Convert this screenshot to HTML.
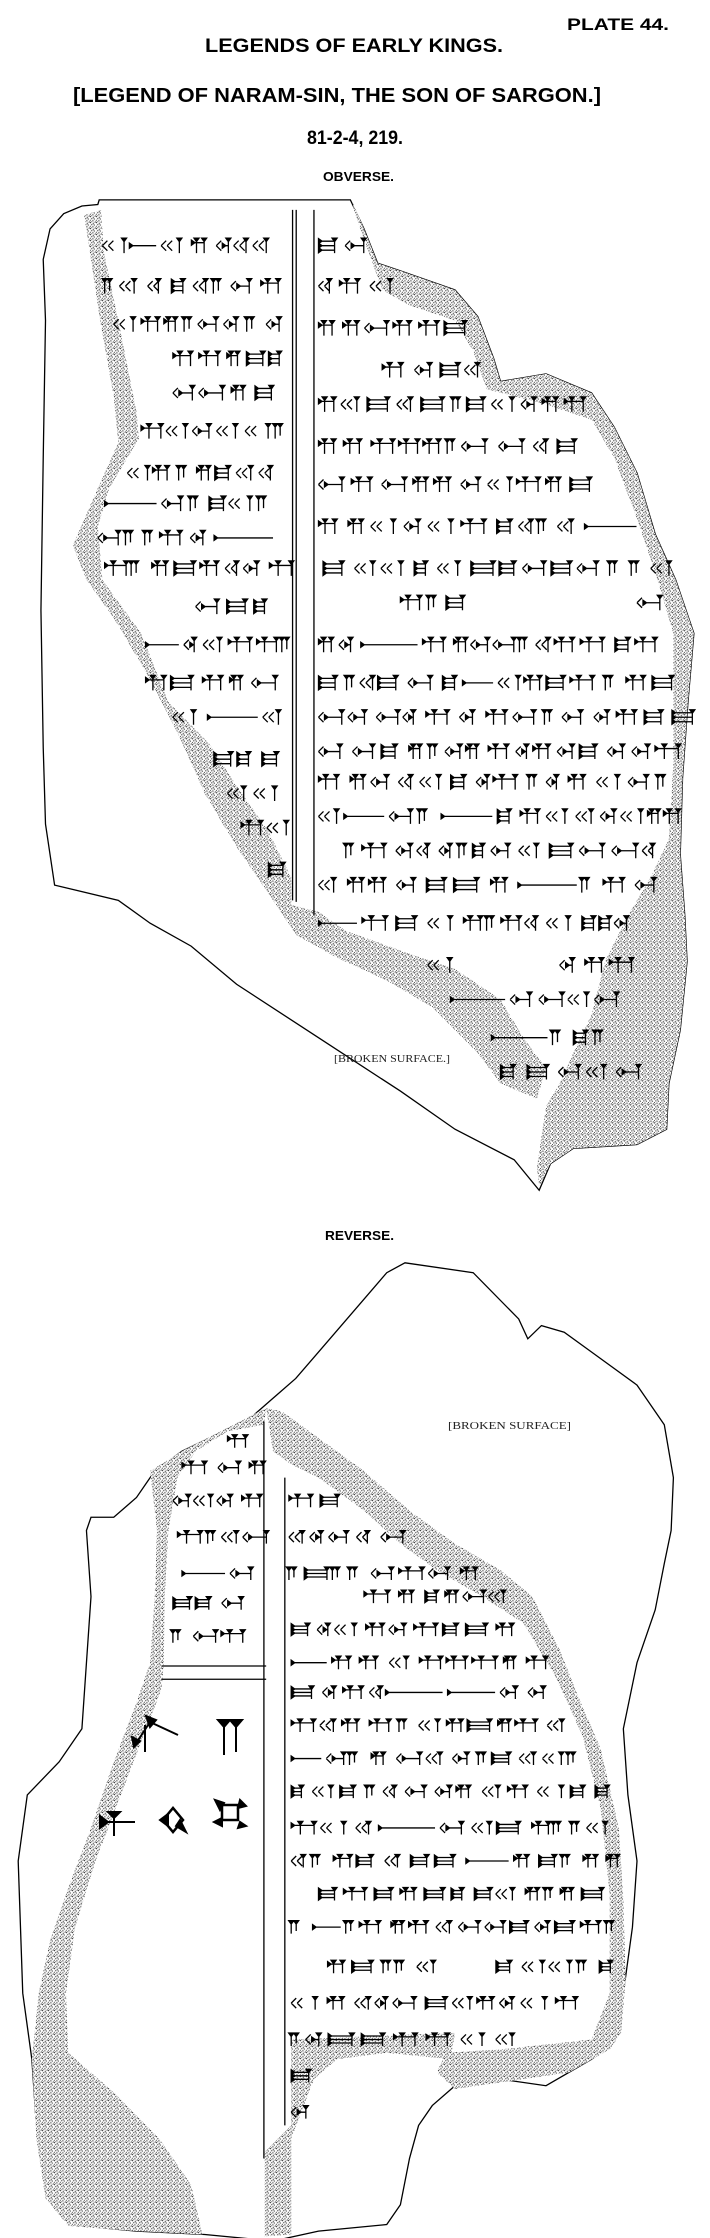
<!DOCTYPE html>
<html><head><meta charset="utf-8"><style>
html,body{margin:0;padding:0;background:#fff;}
svg{display:block;}
.h{font-family:"Liberation Sans",sans-serif;font-weight:bold;fill:#000;}
.b{font-family:"Liberation Serif",serif;fill:#222;}
</style></head><body>
<svg id="s" width="710" height="2238" viewBox="0 0 710 2238" xmlns="http://www.w3.org/2000/svg">
<defs>
<g id="dots" fill="#222">
<circle cx="0.5" cy="0.6" r="0.6"/><circle cx="3.2" cy="1.1" r="0.55"/><circle cx="5.1" cy="0.3" r="0.5"/>
<circle cx="1.8" cy="2.6" r="0.6"/><circle cx="4.3" cy="3.0" r="0.55"/><circle cx="0.4" cy="4.2" r="0.5"/>
<circle cx="2.9" cy="4.8" r="0.6"/><circle cx="5.3" cy="5.2" r="0.5"/><circle cx="1.2" cy="5.6" r="0.45"/>
<circle cx="3.8" cy="2.0" r="0.4"/>
</g>
<pattern id="st1" width="6" height="6" patternUnits="userSpaceOnUse" patternTransform="scale(2.198,1.311)">
<rect width="6" height="6" fill="#fff"/><use href="#dots"/>
</pattern>
<pattern id="st2" width="6" height="6" patternUnits="userSpaceOnUse" patternTransform="scale(2.198,1.513)">
<rect width="6" height="6" fill="#fff"/><use href="#dots"/>
</pattern>
</defs>
<text class="h" x="567" y="30" font-size="17" textLength="102" lengthAdjust="spacingAndGlyphs">PLATE 44.</text>
<text class="h" x="205" y="52" font-size="19" textLength="298" lengthAdjust="spacingAndGlyphs">LEGENDS OF EARLY KINGS.</text>
<text class="h" x="73" y="102" font-size="20" textLength="528" lengthAdjust="spacingAndGlyphs">[LEGEND OF NARAM-SIN, THE SON OF SARGON.]</text>
<text class="h" x="307" y="144" font-size="19" textLength="96" lengthAdjust="spacingAndGlyphs">81-2-4, 219.</text>
<text class="h" x="323" y="181" font-size="13" textLength="71" lengthAdjust="spacingAndGlyphs">OBVERSE.</text>
<text class="h" x="325" y="1240" font-size="13" textLength="69" lengthAdjust="spacingAndGlyphs">REVERSE.</text>

<!-- OBVERSE -->
<g transform="scale(0.455,0.763)">
<polygon fill="#fff" stroke="#000" stroke-width="1.3" vector-effect="non-scaling-stroke" points="218,262 770,262 800,300 830,345 880,355 1000,380 1050,415 1085,470 1100,500 1200,490 1300,515 1350,560 1400,620 1440,700 1485,760 1525,830 1512,920 1500,1020 1495,1120 1505,1200 1510,1260 1495,1350 1470,1420 1465,1480 1400,1500 1260,1505 1210,1525 1185,1560 1130,1520 1000,1480 880,1430 700,1360 520,1290 420,1240 330,1210 260,1180 120,1160 100,1080 95,980 90,800 95,600 100,420 95,340 110,300 140,280 180,270 215,268"/>
<polygon fill="url(#st1)" points="185,282 222,275 228,330 260,420 300,540 305,575 240,640 215,690 225,760 310,830 370,920 460,975 520,1030 590,1090 640,1150 640,1190 600,1180 520,1110 450,1040 390,960 320,880 250,810 190,760 160,715 200,660 260,580 250,520 220,420 200,340"/>
<polygon fill="url(#st1)" points="600,1180 700,1195 760,1220 900,1250 1000,1270 1100,1310 1150,1360 1200,1400 1180,1440 1100,1420 1050,1380 950,1320 850,1285 740,1255 650,1225"/>
<polygon fill="url(#st1)" points="775,265 800,300 830,345 880,355 1000,380 1050,415 1085,470 1100,500 1200,490 1300,515 1350,560 1400,620 1440,700 1485,760 1525,830 1512,920 1500,1020 1495,1120 1505,1200 1510,1260 1495,1350 1470,1420 1465,1480 1400,1500 1260,1505 1210,1525 1185,1555 1180,1530 1200,1450 1230,1420 1260,1380 1300,1330 1330,1260 1380,1200 1430,1150 1470,1100 1480,1000 1480,830 1440,750 1400,680 1350,600 1300,550 1200,530 1070,510 1040,460 1000,420 900,400 840,380 810,330 780,280"/>
<g stroke="#000" stroke-width="1.3">
<line x1="643" y1="275" x2="643" y2="1180" vector-effect="non-scaling-stroke"/>
<line x1="651" y1="275" x2="651" y2="1182" vector-effect="non-scaling-stroke"/>
<line x1="690" y1="275" x2="690" y2="1200" vector-effect="non-scaling-stroke"/>
</g>
</g>
<text class="b" x="334" y="1062" font-size="10" textLength="116" lengthAdjust="spacingAndGlyphs">[BROKEN SURFACE.]</text>

<!-- REVERSE -->
<g transform="translate(0,1200) scale(0.455,0.661)">
<polygon fill="#fff" stroke="#000" stroke-width="1.3" vector-effect="non-scaling-stroke" points="890,95 1040,110 1140,180 1160,210 1190,190 1240,200 1300,230 1400,280 1460,340 1480,420 1475,500 1460,550 1440,620 1400,700 1370,800 1380,900 1400,1000 1390,1100 1370,1200 1340,1280 1300,1300 1200,1340 1100,1330 1000,1340 950,1370 920,1400 900,1450 880,1520 850,1550 700,1560 600,1575 450,1565 300,1560 150,1550 100,1500 80,1400 70,1300 50,1200 40,1000 60,900 130,850 180,800 190,700 200,600 190,500 200,480 250,480 300,450 340,410 360,400 400,380 460,360 550,330 600,300 650,270 700,230 800,150 850,110"/>
<polygon fill="url(#st2)" points="330,410 400,380 470,355 555,325 585,315 580,340 500,350 430,380 390,420 370,500 362,600 360,700 355,740 310,820 260,910 210,1000 165,1100 145,1200 150,1290 250,1350 350,1420 420,1490 445,1565 300,1560 150,1552 100,1510 80,1420 70,1300 85,1200 110,1120 150,1040 200,950 250,850 300,760 330,700 340,600 345,500"/>
<polygon fill="url(#st2)" points="585,315 620,320 700,360 800,410 900,470 1000,520 1100,560 1170,600 1230,680 1270,750 1320,830 1360,950 1370,1060 1375,1180 1365,1260 1340,1285 1250,1320 1100,1335 1000,1345 960,1320 980,1290 1100,1285 1300,1270 1340,1200 1340,1050 1320,920 1280,810 1220,720 1150,640 1060,600 960,560 880,520 800,470 700,420 640,400 600,380"/>
<polygon fill="url(#st2)" points="640,1270 1000,1260 990,1300 850,1290 740,1300 690,1330 640,1420"/>
<polygon fill="url(#st2)" points="582,1440 640,1400 640,1565 582,1568"/>
<g stroke="#000" stroke-width="1.3">
<line x1="580" y1="335" x2="580" y2="1450" vector-effect="non-scaling-stroke"/>
<line x1="626" y1="420" x2="626" y2="1400" vector-effect="non-scaling-stroke"/>
<line x1="355" y1="705" x2="585" y2="705" vector-effect="non-scaling-stroke"/>
<line x1="355" y1="725" x2="585" y2="725" vector-effect="non-scaling-stroke"/>
</g>
</g>
<text class="b" x="448" y="1429" font-size="10" textLength="123" lengthAdjust="spacingAndGlyphs">[BROKEN SURFACE]</text>

<!-- big signs reverse -->
<g stroke="#000" stroke-width="2" fill="#000">
<path d="M150,1722 L178,1735 M150,1722 L135,1745 M145,1725 L145,1752" fill="none"/>
<polygon points="146,1716 156,1720 150,1727"/>
<polygon points="132,1737 140,1741 134,1747"/>
<path d="M224,1722 L224,1755 M236,1722 L236,1752" fill="none"/>
<polygon points="218,1720 230,1720 224,1727"/>
<polygon points="230,1720 242,1720 236,1727"/>
<path d="M104,1822 L135,1822 M114,1815 L114,1836" fill="none"/>
<polygon points="100,1816 100,1828 108,1822"/>
<polygon points="108,1812 120,1812 114,1818"/>
<path d="M163,1820 L173,1808 L183,1820 L173,1832 Z" fill="none" stroke-width="2.5"/>
<polygon points="160,1820 168,1814 168,1826"/>
<polygon points="176,1826 186,1832 180,1820"/>
<path d="M222,1805 L238,1805 L238,1820 L222,1820 Z" fill="none" stroke-width="2.5"/>
<polygon points="215,1800 224,1803 220,1810"/>
<polygon points="240,1800 246,1806 238,1808"/>
<polygon points="214,1822 222,1818 222,1826"/>
<polygon points="240,1822 246,1826 238,1828"/>
</g>
<g id="cu" fill="#000" stroke="#000" stroke-width="1.3"></g>
</svg>
<script>
(function(){
var seed=12345;function r(){seed=(seed*16807)%2147483647;return seed/2147483647;}
function vw(x,y,h){return 'M'+(x-2.5)+','+y+'L'+(x+2.5)+','+y+'L'+x+','+(y+3.5)+'Z M'+x+','+y+'L'+x+','+(y+h)+' ';}
function hw(x,y,l){return 'M'+x+','+(y-2.5)+'L'+x+','+(y+2.5)+'L'+(x+3.5)+','+y+'Z M'+x+','+y+'L'+(x+l)+','+y+' ';}
function wk(x,y,s){return 'M'+(x+s)+','+(y-s)+'L'+x+','+y+' M'+x+','+y+'L'+(x+s)+','+(y+s)+' ';}
function sign(x,yc,h){var d='',w=10+r()*14,t=r(),top=yc-h/2;
 if(t<0.3){d+=hw(x,top+h*0.3,w);d+=vw(x+w*0.4,top,h);d+=vw(x+w,top,h);}
 else if(t<0.5){d+=wk(x,yc,5);d+=hw(x+6,yc,w-6);d+=vw(x+w,top,h);}
 else if(t<0.62){d+=vw(x,top,h);d+=vw(x+5,top,h*0.8);w=8;}
 else if(t<0.8){d+=hw(x,top+3,w);d+=hw(x,yc,w);d+=hw(x,top+h-3,w);d+=vw(x+w,top,h);}
 else{d+=wk(x,yc,5);d+=wk(x+6,yc,5);d+=vw(x+w,top,h);}
 return [d,w];}
var out='';
function row(y,x0,x1,h){var x=x0;while(x<x1-8){if(r()<0.07&&x1-x>60){var l=25+r()*35;out+=hw(x,y,l);x+=l+5;continue;}
 var s=sign(x,y,h);out+=s[0];x+=s[1]+5+r()*9;}}
function ob(zy,a,b){row(zy*0.763,a*0.455,b*0.455,15);}
function rv(zy,a,b){row(1200+zy*0.661,a*0.455,b*0.455,13);}
[[322,225,610],[375,230,615],[425,250,615],[470,380,615],[515,380,615],[565,310,630],[620,280,610],[660,230,615],[705,215,610],[745,230,610],[795,430,610],[845,320,640],[895,320,615],[940,380,630],[995,470,610],[1040,500,600],[1085,530,610],[1140,590,615]].forEach(function(a){ob(a[0],a[1],a[2]);});
[[322,700,830],[375,700,900],[430,700,1040],[485,840,1060],[530,700,1260],[585,700,1280],[635,700,1280],[690,700,1420],[745,710,1450],[790,880,1000],[790,1400,1460],[845,700,1470],[895,700,1500],[940,700,1500],[985,700,1500],[1025,700,1480],[1070,700,1480],[1115,760,1470],[1160,700,1420],[1210,700,1400],[1265,940,1020],[1265,1230,1380],[1310,990,1330],[1360,1080,1370],[1405,1100,1410]].forEach(function(a){ob(a[0],a[1],a[2]);});
[[455,635,760],[510,635,900],[565,635,1040],[600,800,1100],[650,640,1150],[700,640,1200],[745,640,1230],[795,640,1240],[845,640,1280],[895,640,1330],[950,640,1340],[1000,640,1350],[1050,700,1350],[1100,640,1360],[1160,720,960],[1160,1090,1350],[1215,640,1300],[1270,640,1140],[1325,640,680],[1380,640,680]].forEach(function(a){rv(a[0],a[1],a[2]);});
[[365,500,560],[405,400,570],[455,380,565],[510,390,565],[565,400,565],[610,380,565],[660,380,565]].forEach(function(a){rv(a[0],a[1],a[2]);});
document.getElementById('cu').innerHTML='<path d="'+out+'"/>';
})();
</script>
</body></html>
